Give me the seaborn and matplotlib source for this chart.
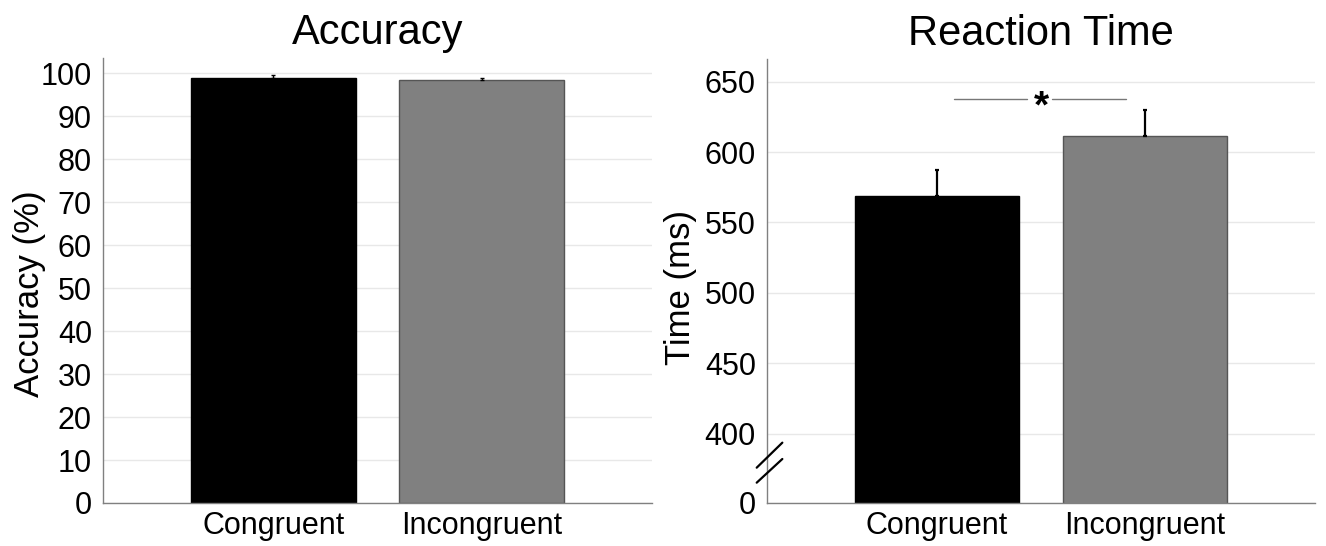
import matplotlib
matplotlib.use("Agg")
import matplotlib.pyplot as plt
import seaborn as sns
import pandas as pd

# Data
conditions = ["Congruent", "Incongruent"]
accuracy_mean = [98.9, 98.4]
accuracy_sem = [0.6, 0.5]
rt_mean = [568.5, 611.5]
rt_sem = [19.0, 18.5]
accuracy_ticks = [0, 10, 20, 30, 40, 50, 60, 70, 80, 90, 100]
rt_ticks = [350.6, 400, 450, 500, 550, 600, 650]
rt_tick_labels = ["0", "400", "450", "500", "550", "600", "650"]

sns.set_theme(style="white")
plt.rcParams["font.family"] = ["Liberation Sans", "DejaVu Sans"]
plt.rcParams["text.color"] = "black"
plt.rcParams["axes.labelcolor"] = "black"
plt.rcParams["xtick.color"] = "black"
plt.rcParams["ytick.color"] = "black"

bar_colors = ["#000000", "#808080"]
edge_colors = ["#000000", "#555555"]
grid_color = "#e8e8e8"
spine_color = "#808080"

fig = plt.figure(figsize=(13.26, 5.46), dpi=100)
ax1 = fig.add_axes([103 / 1326, 1 - 503 / 546, 549 / 1326, 445 / 546])
ax2 = fig.add_axes([767 / 1326, 1 - 503 / 546, 548 / 1326, 443.7 / 546])

acc_df = pd.DataFrame({"Condition": conditions, "Value": accuracy_mean})
rt_df = pd.DataFrame({"Condition": conditions, "Value": rt_mean})


def draw_panel(ax, df, sem, title, ylabel, err_lw, label_xy):
    sns.barplot(data=df, x="Condition", y="Value", hue="Condition",
                palette=bar_colors, errorbar=None, width=0.79,
                legend=False, ax=ax, zorder=2)
    for patch, ec in zip(ax.patches, edge_colors):
        patch.set_edgecolor(ec)
        patch.set_linewidth(1.0)
    ax.errorbar([0, 1], df["Value"], yerr=[[0, 0], sem], fmt="none",
                ecolor="black", elinewidth=err_lw, capsize=1.6,
                capthick=err_lw, zorder=3)
    ax.set_xlim(-0.815, 1.815)
    ax.set_title(title, fontsize=30, pad=10, color="black")
    ax.set_ylabel(ylabel, fontsize=25, color="black")
    ax.yaxis.set_label_coords(*label_xy)
    ax.yaxis.label.set_verticalalignment("center")
    ax.set_xlabel("")
    ax.yaxis.grid(True, color=grid_color, linewidth=1, zorder=0)
    ax.set_axisbelow(True)
    for side in ["top", "right"]:
        ax.spines[side].set_visible(False)
    for side in ["left", "bottom"]:
        ax.spines[side].set_color(spine_color)
        ax.spines[side].set_linewidth(1)
    ax.tick_params(axis="y", length=0, labelsize=22, pad=8)
    ax.tick_params(axis="x", length=0, labelsize=22, pad=6)


draw_panel(ax1, acc_df, accuracy_sem, "Accuracy", "Accuracy (%)", 1.0,
           (-0.133, 0.47))
ax1.set_ylim(0, 103.5)
ax1.set_yticks(accuracy_ticks)

draw_panel(ax2, rt_df, rt_sem, "Reaction Time", "Time (ms)", 1.6,
           (-0.157, 0.485))
ax2.set_ylim(350.6, 666)
ax2.set_yticks(rt_ticks)
ax2.set_yticklabels(rt_tick_labels)

# Axis break marks on the reaction-time axis
for y0, y1 in [(0.0796, 0.136), (0.0458, 0.0992)]:
    ax2.plot([-0.0188, 0.028], [y0, y1], transform=ax2.transAxes,
             color="black", linewidth=1.6, clip_on=False, zorder=5)

# Significance marker between conditions
sig_y = 637.5
ax2.plot([0.084, 0.434], [sig_y, sig_y], color="#777777", linewidth=1)
ax2.plot([0.554, 0.909], [sig_y, sig_y], color="#777777", linewidth=1)
ax2.text(0.5, sig_y - 6, "*", ha="center", va="center", fontsize=28,
         fontweight="bold", color="black")

fig.savefig("out.png", dpi=100)
